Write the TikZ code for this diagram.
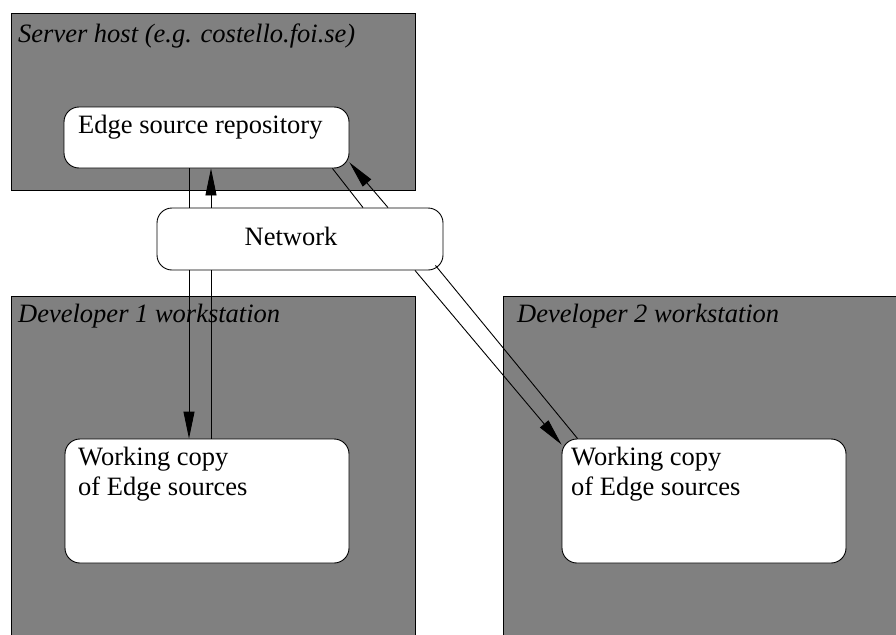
\documentclass[tikz,border=0pt]{standalone}
\usepackage{fontspec}
\setmainfont{Liberation Serif}
\usetikzlibrary{arrows.meta}
\begin{document}
\begin{tikzpicture}[x=1pt,y=-1pt,
  host/.style={draw=black, line width=0.9pt, fill=hostgray},
  roundbox/.style={draw=black, line width=0.9pt, fill=white, rounded corners=15pt,
    inner sep=0pt},
  hostlabel/.style={anchor=base west, inner sep=0pt, font=\fontsize{26.5}{30}\selectfont\itshape},
  boxtext/.style={anchor=base west, inner sep=0pt, align=left, font=\fontsize{26.5}{30}\selectfont},
  link/.style={line width=0.9pt},
  flow/.style={line width=0.9pt, -{Triangle[length=27pt,width=11pt]}},
]
\definecolor{hostgray}{RGB}{128,128,128}
\useasboundingbox (0,0) rectangle (896,634);
\clip (0,0) rectangle (896,634);

% machines
\draw[host] (11,13) rectangle (415,190);
\draw[host] (11,296) rectangle (415,660);
\draw[host] (503,296) rectangle (920,660);
\node[hostlabel] (serverlabel) at (18,42) {Server host (e.g. costello.foi.se)};
\node[hostlabel] (dev1label) at (18,322) {Developer 1 workstation};
\node[hostlabel] (dev2label) at (517,322) {Developer 2 workstation};

% repositories and working copies
\node[roundbox, minimum width=285pt, minimum height=61pt] (repo) at (206.5,137.5) {};
\node[boxtext] (repotext) at (78,133) {Edge source repository};

\node[roundbox, minimum width=286pt, minimum height=62pt] (net) at (300,239) {};
\node[boxtext, anchor=base] (nettext) at (291,245) {Network};

\node[roundbox, minimum width=284pt, minimum height=124pt] (wc1) at (207,501) {};
% the base anchor of a two-line node sits on its last line
\node[boxtext] (wc1text) at (78,495) {Working copy\\of Edge sources};

\node[roundbox, minimum width=284pt, minimum height=124pt] (wc2) at (704,501) {};
\node[boxtext] (wc2text) at (571,495) {Working copy\\of Edge sources};

% vertical channel to developer 1
\coordinate (down) at (189,0);
\coordinate (up) at (211,0);
\draw[link] (repo.south -| down) -- (net.north -| down);
\draw[flow] (net.south -| down) -- (wc1.north -| down);
\draw[link] (wc1.north -| up) -- (net.south -| up);
\draw[flow] (net.north -| up) -- (repo.south -| up);

% diagonal channel to developer 2
\draw[link] ([xshift=-17pt]repo.south east) -- ([xshift=63pt]net.north);
\draw[flow] ([xshift=115pt]net.south) -- ([yshift=-6pt]wc2.north west);
\draw[link] ([xshift=16pt]wc2.north west) -- ([shift={(-8pt,5pt)}]net.south east);
\draw[flow] ([xshift=88pt]net.north) -- ([yshift=6pt]repo.south east);
\end{tikzpicture}
\end{document}
